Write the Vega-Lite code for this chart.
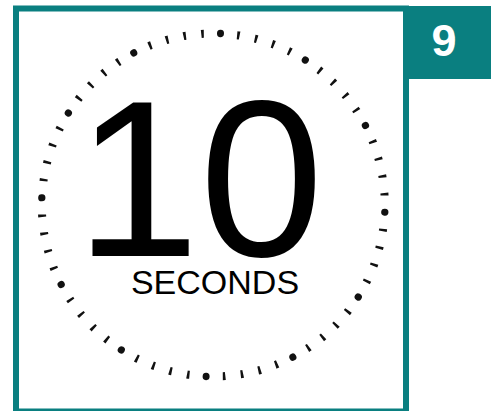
{
  "$schema": "https://vega.github.io/schema/vega-lite/v6.json",
  "background": "white",
  "padding": {"left": 16, "top": 5.5, "right": 0, "bottom": 0},
  "width": 390,
  "height": 403,
  "view": {"fill": "white", "stroke": "#0a7f80", "strokeWidth": 6},
  "datasets": {
    "marks": [
      {"s": 0, "v": 1, "kind": "dot"}, {"s": 1, "v": 1, "kind": "tick"}, {"s": 2, "v": 1, "kind": "tick"}, {"s": 3, "v": 1, "kind": "tick"}, {"s": 4, "v": 1, "kind": "tick"},
      {"s": 5, "v": 1, "kind": "dot"}, {"s": 6, "v": 1, "kind": "tick"}, {"s": 7, "v": 1, "kind": "tick"}, {"s": 8, "v": 1, "kind": "tick"}, {"s": 9, "v": 1, "kind": "tick"},
      {"s": 10, "v": 1, "kind": "dot"}, {"s": 11, "v": 1, "kind": "tick"}, {"s": 12, "v": 1, "kind": "tick"}, {"s": 13, "v": 1, "kind": "tick"}, {"s": 14, "v": 1, "kind": "tick"},
      {"s": 15, "v": 1, "kind": "dot"}, {"s": 16, "v": 1, "kind": "tick"}, {"s": 17, "v": 1, "kind": "tick"}, {"s": 18, "v": 1, "kind": "tick"}, {"s": 19, "v": 1, "kind": "tick"},
      {"s": 20, "v": 1, "kind": "dot"}, {"s": 21, "v": 1, "kind": "tick"}, {"s": 22, "v": 1, "kind": "tick"}, {"s": 23, "v": 1, "kind": "tick"}, {"s": 24, "v": 1, "kind": "tick"},
      {"s": 25, "v": 1, "kind": "dot"}, {"s": 26, "v": 1, "kind": "tick"}, {"s": 27, "v": 1, "kind": "tick"}, {"s": 28, "v": 1, "kind": "tick"}, {"s": 29, "v": 1, "kind": "tick"},
      {"s": 30, "v": 1, "kind": "dot"}, {"s": 31, "v": 1, "kind": "tick"}, {"s": 32, "v": 1, "kind": "tick"}, {"s": 33, "v": 1, "kind": "tick"}, {"s": 34, "v": 1, "kind": "tick"},
      {"s": 35, "v": 1, "kind": "dot"}, {"s": 36, "v": 1, "kind": "tick"}, {"s": 37, "v": 1, "kind": "tick"}, {"s": 38, "v": 1, "kind": "tick"}, {"s": 39, "v": 1, "kind": "tick"},
      {"s": 40, "v": 1, "kind": "dot"}, {"s": 41, "v": 1, "kind": "tick"}, {"s": 42, "v": 1, "kind": "tick"}, {"s": 43, "v": 1, "kind": "tick"}, {"s": 44, "v": 1, "kind": "tick"},
      {"s": 45, "v": 1, "kind": "dot"}, {"s": 46, "v": 1, "kind": "tick"}, {"s": 47, "v": 1, "kind": "tick"}, {"s": 48, "v": 1, "kind": "tick"}, {"s": 49, "v": 1, "kind": "tick"},
      {"s": 50, "v": 1, "kind": "dot"}, {"s": 51, "v": 1, "kind": "tick"}, {"s": 52, "v": 1, "kind": "tick"}, {"s": 53, "v": 1, "kind": "tick"}, {"s": 54, "v": 1, "kind": "tick"},
      {"s": 55, "v": 1, "kind": "dot"}, {"s": 56, "v": 1, "kind": "tick"}, {"s": 57, "v": 1, "kind": "tick"}, {"s": 58, "v": 1, "kind": "tick"}, {"s": 59, "v": 1, "kind": "tick"}
    ],
    "labels": [
      {"label": "10", "role": "number"},
      {"label": "SECONDS", "role": "unit"}
    ],
    "badge": [{"label": "9"}]
  },
  "layer": [
    {
      "data": {"name": "marks"},
      "mark": {"type": "arc", "innerRadius": 167.5, "outerRadius": 175.5, "padAngle": 0.0635, "xOffset": 2.3, "yOffset": -5, "color": "#111111"},
      "encoding": {
        "theta": {"field": "v", "type": "quantitative", "stack": true, "scale": {"domain": [0, 60], "range": [-0.01047, 6.27272]}},
        "order": {"field": "s", "type": "quantitative"},
        "opacity": {"condition": {"test": "datum.kind === 'tick'", "value": 1}, "value": 0}
      }
    },
    {
      "data": {"name": "marks"},
      "mark": {"type": "arc", "innerRadius": 168, "outerRadius": 175.3, "padAngle": 0.0452, "cornerRadius": 3.6, "xOffset": 2.3, "yOffset": -5, "color": "#111111"},
      "encoding": {
        "theta": {"field": "v", "type": "quantitative", "stack": true, "scale": {"domain": [0, 60], "range": [-0.01047, 6.27272]}},
        "order": {"field": "s", "type": "quantitative"},
        "opacity": {"condition": {"test": "datum.kind === 'dot'", "value": 1}, "value": 0}
      }
    },
    {
      "data": {"name": "labels"},
      "transform": [{"filter": "datum.role === 'number'"}],
      "mark": {"type": "text", "font": "Liberation Sans", "fontSize": 223, "align": "center", "baseline": "alphabetic", "dx": -11.5, "dy": 46, "color": "#000000"},
      "encoding": {"text": {"field": "label", "type": "nominal"}}
    },
    {
      "data": {"name": "labels"},
      "transform": [{"filter": "datum.role === 'unit'"}],
      "mark": {"type": "text", "font": "Liberation Sans", "fontSize": 34, "align": "center", "baseline": "alphabetic", "dx": 4, "dy": 84, "color": "#000000"},
      "encoding": {"text": {"field": "label", "type": "nominal"}}
    },
    {
      "data": {"name": "badge"},
      "mark": {"type": "point", "shape": "M-1,-0.8295L1,-0.8295L1,0.8295L-1,0.8295Z", "size": 7744, "filled": true, "opacity": 1, "strokeWidth": 0, "color": "#0a7f80", "xOffset": 236, "yOffset": -167.5},
      "encoding": {}
    },
    {
      "data": {"name": "badge"},
      "mark": {"type": "text", "font": "Liberation Sans", "fontWeight": "bold", "fontSize": 45, "align": "center", "baseline": "alphabetic", "dx": 233, "dy": -153.7, "color": "white"},
      "encoding": {"text": {"field": "label", "type": "nominal"}}
    }
  ]
}
